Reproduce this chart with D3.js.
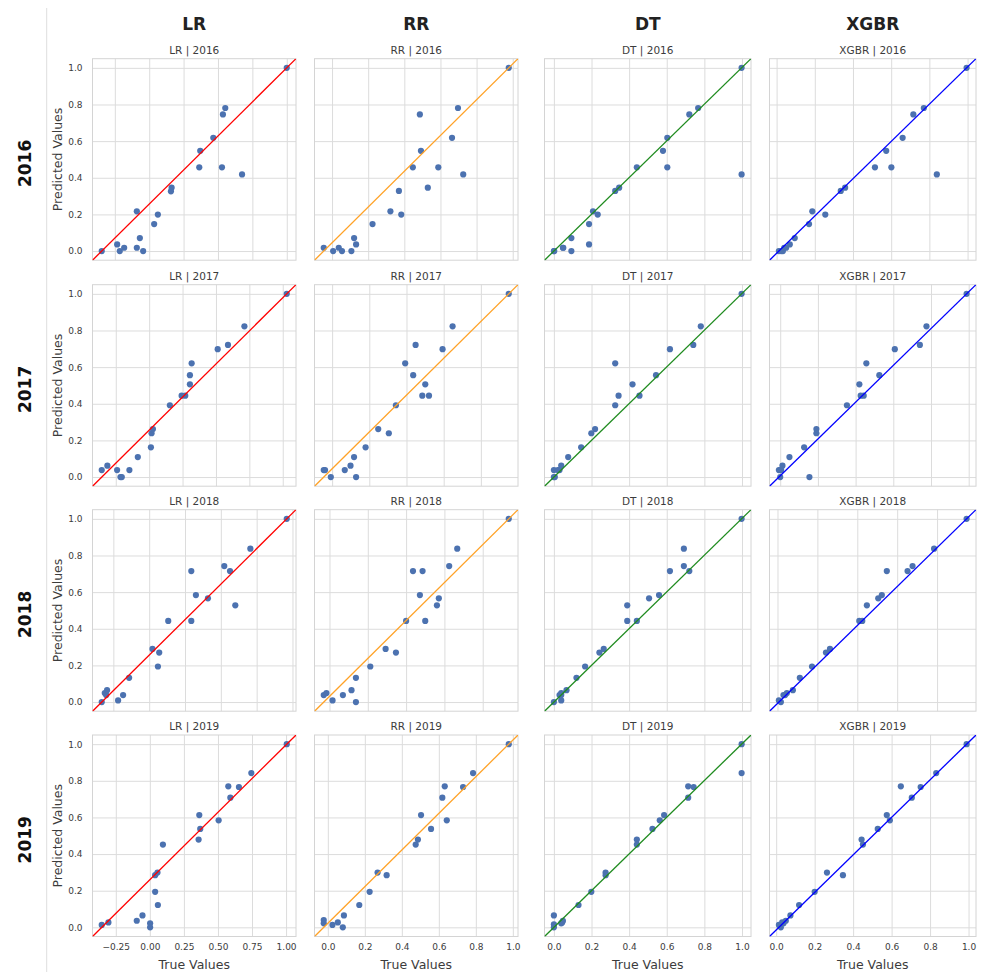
<!DOCTYPE html>
<html><head><meta charset="utf-8">
<script src="https://cdn.jsdelivr.net/npm/d3@7"></script>
<style>body{margin:0;background:#fff;} text{font-family:"DejaVu Sans",sans-serif;}</style>
</head><body>
<svg id="c" width="984" height="972"></svg>
<script>
const years = ["2016", "2017", "2018", "2019"];
const models = ["LR", "RR", "DT", "XGBR"];
const yTicks = [0, 0.2, 0.4, 0.6, 0.8, 1.0];
const xTicksLR = [-0.25, 0, 0.25, 0.5, 0.75, 1.0];
const xTicksOther = [0, 0.2, 0.4, 0.6, 0.8, 1.0];

// [true value, predicted value]
const LR_2016 = [[-0.345,0],[-0.233,0.036],[-0.214,0],[-0.182,0.018],[-0.090,0.217],[-0.090,0.018],[-0.068,0.071],[-0.044,0],[0.036,0.147],[0.063,0.199],[0.158,0.326],[0.163,0.346],[0.364,0.457],[0.371,0.547],[0.466,0.618],[0.529,0.457],[0.536,0.746],[0.553,0.781],[0.675,0.418],[1.0,1.0]];
const RR_2016 = [[-0.046,0.018],[0.006,0],[0.037,0.018],[0.055,0],[0.107,0],[0.122,0.071],[0.133,0.036],[0.224,0.147],[0.323,0.217],[0.370,0.328],[0.383,0.199],[0.447,0.457],[0.486,0.746],[0.492,0.547],[0.530,0.346],[0.588,0.457],[0.664,0.618],[0.697,0.781],[0.726,0.418],[0.978,1.0]];
const DT_2016 = [[0,0],[0.002,0],[0.048,0.018],[0.05,0.018],[0.093,0.071],[0.093,0],[0.187,0.147],[0.187,0.036],[0.208,0.217],[0.233,0.199],[0.326,0.328],[0.347,0.346],[0.441,0.457],[0.580,0.547],[0.603,0.618],[0.603,0.457],[0.720,0.746],[0.767,0.781],[0.998,1.0],[0.998,0.418]];
const XGBR_2016 = [[0.012,0],[0.024,0],[0.033,0],[0.040,0.018],[0.050,0.018],[0.069,0.036],[0.095,0.071],[0.170,0.147],[0.187,0.217],[0.255,0.199],[0.336,0.328],[0.359,0.346],[0.515,0.457],[0.574,0.547],[0.601,0.457],[0.660,0.618],[0.716,0.746],[0.771,0.781],[0.839,0.418],[0.995,1.0]];

const LR_2017 = [[-0.355,0.038],[-0.313,0.062],[-0.24,0.038],[-0.215,0],[-0.205,0],[-0.148,0.038],[-0.085,0.109],[0.013,0.162],[0.018,0.239],[0.028,0.262],[0.155,0.392],[0.243,0.444],[0.27,0.444],[0.305,0.506],[0.305,0.556],[0.318,0.621],[0.513,0.698],[0.59,0.721],[0.713,0.823],[1.03,1.0]];
const RR_2017 = [[-0.045,0.038],[-0.038,0.038],[-0.007,0],[0.068,0.038],[0.099,0.062],[0.118,0.109],[0.129,0],[0.18,0.162],[0.248,0.262],[0.305,0.239],[0.343,0.392],[0.393,0.621],[0.436,0.556],[0.449,0.721],[0.485,0.444],[0.501,0.506],[0.521,0.444],[0.594,0.698],[0.648,0.823],[0.95,1.0]];
const DT_2017 = [[0,0],[0.005,0],[0,0.038],[0.021,0.038],[0.03,0.038],[0.039,0.062],[0.076,0.109],[0.145,0.162],[0.199,0.239],[0.219,0.262],[0.326,0.392],[0.326,0.621],[0.344,0.444],[0.418,0.506],[0.455,0.444],[0.543,0.556],[0.617,0.698],[0.741,0.721],[0.781,0.823],[0.998,1.0]];
const XGBR_2017 = [[-0.007,0.038],[0,0],[0.002,0.038],[0.005,0.038],[0.012,0.062],[0.049,0.109],[0.127,0.162],[0.155,0],[0.192,0.239],[0.192,0.262],[0.354,0.392],[0.42,0.506],[0.427,0.444],[0.443,0.444],[0.457,0.621],[0.526,0.556],[0.608,0.698],[0.741,0.721],[0.776,0.823],[0.989,1.0]];

const LR_2018 = [[-0.331,0],[-0.31,0.049],[-0.30,0.038],[-0.294,0.065],[-0.217,0.009],[-0.182,0.038],[-0.14,0.132],[0.023,0.29],[0.061,0.194],[0.07,0.27],[0.133,0.443],[0.294,0.715],[0.294,0.443],[0.326,0.584],[0.41,0.566],[0.524,0.742],[0.564,0.715],[0.601,0.528],[0.706,0.837],[0.96,1.0]];
const RR_2018 = [[-0.03,0.038],[-0.016,0.049],[0.016,0.009],[0.07,0.038],[0.115,0.065],[0.138,0.132],[0.138,0],[0.213,0.194],[0.293,0.29],[0.347,0.27],[0.4,0.443],[0.436,0.715],[0.472,0.584],[0.486,0.715],[0.5,0.443],[0.561,0.528],[0.571,0.566],[0.625,0.742],[0.667,0.837],[0.936,1.0]];
const DT_2018 = [[0,0],[0.039,0.009],[0.03,0.038],[0.039,0.038],[0.039,0.049],[0.067,0.065],[0.12,0.132],[0.166,0.194],[0.242,0.27],[0.265,0.29],[0.39,0.528],[0.39,0.443],[0.441,0.443],[0.506,0.566],[0.559,0.584],[0.617,0.715],[0.691,0.837],[0.691,0.742],[0.72,0.715],[0.998,1.0]];
const XGBR_2018 = [[0.007,0.009],[0.017,0],[0.03,0.038],[0.038,0.038],[0.047,0.049],[0.077,0.065],[0.112,0.132],[0.173,0.194],[0.243,0.27],[0.263,0.29],[0.41,0.443],[0.425,0.443],[0.448,0.528],[0.505,0.566],[0.523,0.584],[0.548,0.715],[0.652,0.715],[0.677,0.742],[0.785,0.837],[0.948,1.0]];

const LR_2019 = [[-0.353,0.013],[-0.304,0.027],[-0.096,0.036],[-0.054,0.065],[0.002,0.022],[0.002,0],[0.039,0.194],[0.039,0.285],[0.056,0.299],[0.059,0.122],[0.096,0.452],[0.358,0.479],[0.363,0.613],[0.37,0.537],[0.505,0.584],[0.576,0.77],[0.591,0.708],[0.654,0.766],[0.745,0.842],[1.005,1.0]];
const RR_2019 = [[-0.022,0.04],[-0.022,0.022],[0.025,0.013],[0.054,0.027],[0.081,0],[0.087,0.065],[0.17,0.122],[0.226,0.194],[0.269,0.299],[0.318,0.285],[0.475,0.452],[0.487,0.479],[0.504,0.613],[0.558,0.537],[0.619,0.708],[0.632,0.77],[0.643,0.584],[0.731,0.766],[0.785,0.842],[0.978,1.0]];
const DT_2019 = [[0,0.065],[0,0.016],[0,0],[0.039,0.022],[0.044,0.027],[0.048,0.036],[0.131,0.122],[0.199,0.194],[0.275,0.299],[0.275,0.285],[0.441,0.479],[0.441,0.452],[0.524,0.537],[0.563,0.584],[0.586,0.613],[0.714,0.77],[0.714,0.708],[0.743,0.766],[0.998,1.0],[0.998,0.842]];
const XGBR_2019 = [[0.014,0.013],[0.024,0],[0.031,0.027],[0.038,0.022],[0.05,0.036],[0.074,0.065],[0.119,0.122],[0.2,0.194],[0.264,0.299],[0.347,0.285],[0.444,0.479],[0.451,0.452],[0.528,0.537],[0.575,0.613],[0.591,0.584],[0.648,0.77],[0.705,0.708],[0.751,0.766],[0.832,0.842],[0.99,1.0]];

const panels = {
  LR: [LR_2016, LR_2017, LR_2018, LR_2019],
  RR: [RR_2016, RR_2017, RR_2018, RR_2019],
  DT: [DT_2016, DT_2017, DT_2018, DT_2019],
  XGBR: [XGBR_2016, XGBR_2017, XGBR_2018, XGBR_2019]
};

// ---- layout / style ----
const colX = [92.5, 314.5, 544.5, 769.5];
const colW = [203.5, 203.5, 206.5, 206.5];
const rowY = [58.7, 284.7, 509.7, 735];
const rowH = 201.5;
const lineColors = {LR: "#ff0000", RR: "#ffa227", DT: "#1f8b1f", XGBR: "#0000ff"};
const gridColor = "#dcdcdc";
const txt = "#3c3c3c";

const svg = d3.select("#c");

// separator line
svg.append("line").attr("x1", 46.7).attr("x2", 46.7).attr("y1", 8).attr("y2", 972)
  .attr("stroke", "#dedede").attr("stroke-width", 1);

// column headers
models.forEach((m, ci) => {
  svg.append("text").attr("x", colX[ci] + colW[ci] / 2).attr("y", 29.5)
    .attr("text-anchor", "middle").attr("font-size", 17).attr("font-weight", "bold")
    .attr("fill", "#222").text(m);
});
// row labels
years.forEach((yr, ri) => {
  const cy = rowY[ri] + rowH / 2 + 4;
  svg.append("text").attr("transform", `translate(25,${cy}) rotate(-90)`)
    .attr("text-anchor", "middle").attr("dominant-baseline", "central")
    .attr("font-size", 17).attr("font-weight", "bold").attr("fill", "#111").text(yr);
});

const fmt2 = d => (d < 0 ? "\u2212" : "") + Math.abs(d).toFixed(2);
const fmt1 = d => d.toFixed(1);

models.forEach((m, ci) => {
  years.forEach((yr, ri) => {
    const data = panels[m][ri];
    const x0 = colX[ci], y0 = rowY[ri], w = colW[ci], h = rowH;
    const ext = d3.extent(data, d => d[0]);
    const pad = (ext[1] - ext[0]) * 0.05;
    const x = d3.scaleLinear().domain([ext[0] - pad, ext[1] + pad]).range([x0, x0 + w]);
    const yext = d3.extent(data, d => d[1]);
    const ypad = (yext[1] - yext[0]) * 0.05;
    const y = d3.scaleLinear().domain([yext[0] - ypad, yext[1] + ypad]).range([y0 + h, y0]);
    const g = svg.append("g");
    const clipId = `clip-${ci}-${ri}`;
    g.append("clipPath").attr("id", clipId).append("rect")
      .attr("x", x0).attr("y", y0).attr("width", w).attr("height", h);

    const xt = (m === "LR" ? xTicksLR : xTicksOther).filter(t => t >= x.domain()[0] && t <= x.domain()[1]);
    const yt = yTicks.filter(t => t >= y.domain()[0] && t <= y.domain()[1]);

    // grid via axes
    const gx = g.append("g").attr("transform", `translate(0,${y0 + h})`)
      .call(d3.axisBottom(x).tickValues(xt).tickSize(-h).tickFormat(m === "LR" ? fmt2 : fmt1).tickPadding(7));
    gx.select(".domain").remove();
    gx.selectAll(".tick line").attr("stroke", gridColor).attr("stroke-width", 1);
    gx.selectAll(".tick text").attr("font-size", 9).attr("fill", txt).attr("font-family", "DejaVu Sans")
      .style("display", ri === 3 ? null : "none");

    const gy = g.append("g").attr("transform", `translate(${x0},0)`)
      .call(d3.axisLeft(y).tickValues(yt).tickSize(-w).tickFormat(fmt1).tickPadding(10));
    gy.select(".domain").remove();
    gy.selectAll(".tick line").attr("stroke", gridColor).attr("stroke-width", 1);
    gy.selectAll(".tick text").attr("font-size", 9).attr("fill", txt).attr("font-family", "DejaVu Sans")
      .style("display", ci === 0 ? null : "none");

    // frame
    g.append("rect").attr("x", x0).attr("y", y0).attr("width", w).attr("height", h)
      .attr("fill", "none").attr("stroke", "#d4d4d4").attr("stroke-width", 1);

    // points
    g.append("g").selectAll("circle").data(data).join("circle")
      .attr("cx", d => x(d[0])).attr("cy", d => y(d[1])).attr("r", 3.1)
      .attr("fill", "#4c72b0");

    // reference line from (min true, min pred) to (max true, max pred), extended
    const xd = x.domain(), yd = y.domain();
    g.append("line").attr("clip-path", `url(#${clipId})`)
      .attr("x1", x(xd[0])).attr("y1", y(yd[0])).attr("x2", x(xd[1])).attr("y2", y(yd[1]))
      .attr("stroke", lineColors[m]).attr("stroke-width", 1.3);

    // subtitle
    g.append("text").attr("x", x0 + w / 2).attr("y", y0 - 5)
      .attr("text-anchor", "middle").attr("font-size", 10.5).attr("fill", txt)
      .text(`${m} | ${yr}`);

    if (ci === 0) {
      g.append("text").attr("transform", `translate(57,${y0 + h / 2}) rotate(-90)`)
        .attr("text-anchor", "middle").attr("dominant-baseline", "central")
        .attr("font-size", 12.5).attr("fill", txt).text("Predicted Values");
    }
    if (ri === 3) {
      g.append("text").attr("x", x0 + w / 2).attr("y", y0 + h + 32)
        .attr("text-anchor", "middle").attr("font-size", 12.5).attr("fill", txt)
        .text("True Values");
    }
  });
});
</script>
</body></html>
